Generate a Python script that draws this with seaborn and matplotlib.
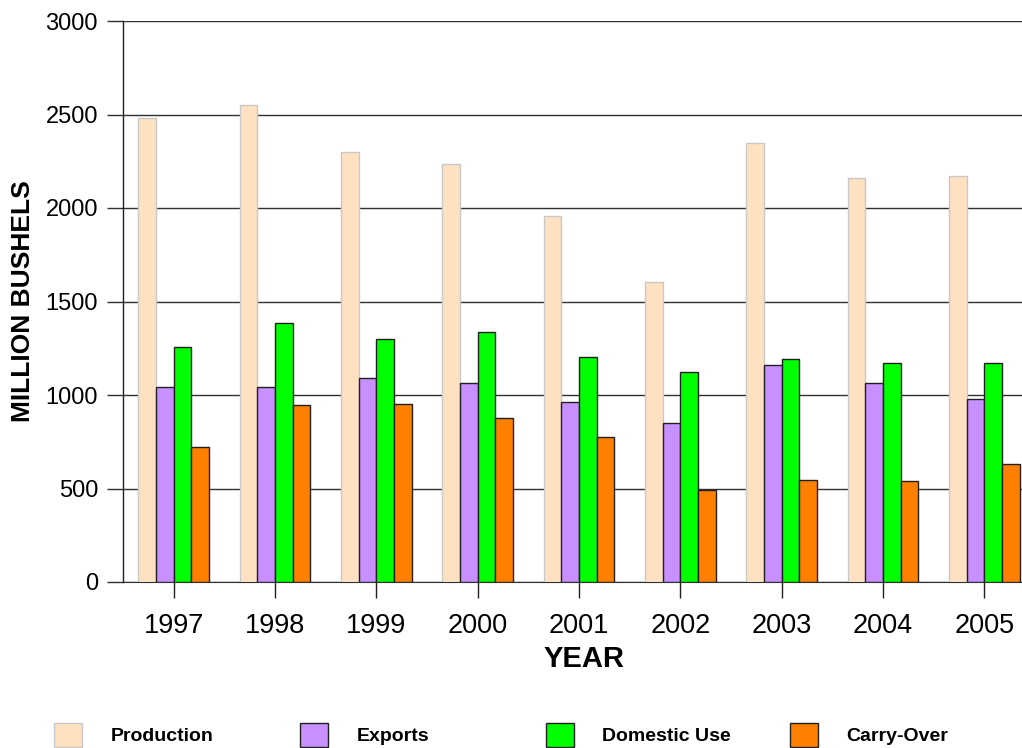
import matplotlib
matplotlib.use("Agg")
import matplotlib.pyplot as plt
import seaborn as sns
import pandas as pd
from matplotlib.patches import Patch

years = ["1997", "1998", "1999", "2000", "2001", "2002", "2003", "2004", "2005"]
production = [2482, 2549, 2301, 2233, 1959, 1606, 2349, 2160, 2170]
exports = [1041, 1044, 1093, 1062, 963, 850, 1159, 1062, 977]
domestic_use = [1257, 1387, 1301, 1335, 1201, 1125, 1194, 1173, 1169]
carry_over = [722, 947, 950, 875, 777, 490, 545, 540, 633]

series = ["Production", "Exports", "Domestic Use", "Carry-Over"]
colors = ["#FFE0C0", "#C78FFF", "#00FF00", "#FF8000"]
edges = ["#C8C8C8", "#202020", "#202020", "#202020"]

df = pd.DataFrame({
    "year": years * 4,
    "series": [s for s in series for _ in years],
    "value": production + exports + domestic_use + carry_over,
})

sns.set_style("white", {"xtick.bottom": True, "ytick.left": True})
plt.rcParams["font.family"] = ["Liberation Sans", "DejaVu Sans"]
plt.rcParams["text.color"] = "black"
plt.rcParams["axes.labelcolor"] = "black"

fig = plt.figure(figsize=(10.22, 7.48), dpi=100)
ax = fig.add_axes([123 / 1022, 1 - 582 / 748, 912 / 1022, 561 / 748])

sns.barplot(data=df, x="year", y="value", hue="series", hue_order=series,
            palette=colors, width=0.7, saturation=1, legend=False, ax=ax, zorder=3)

for cont, ec in zip(ax.containers, edges):
    for bar in cont:
        bar.set_edgecolor(ec)
        bar.set_linewidth(1)

ax.set_xlim(-0.5, 8.5)
ax.set_ylim(0, 3000)
ax.set_xticks(range(len(years)))
ax.set_xticklabels(years)
ax.set_yticks(range(0, 3001, 500))
ax.yaxis.grid(True, color="#303030", linewidth=1)

for s in ["top", "right"]:
    ax.spines[s].set_visible(False)
ax.spines["bottom"].set_color("#303030")
ax.spines["left"].set_color("#202020")
ax.spines["left"].set_linewidth(1)

ax.tick_params(axis="y", length=11.5, width=1, color="#303030", pad=6.5,
               labelsize=17, labelcolor="black", left=True)
ax.tick_params(axis="x", length=11.5, width=1, color="#202020", pad=11,
               labelsize=19.5, labelcolor="black", bottom=True)

ax.set_xlabel("YEAR", fontsize=21, fontweight="bold", color="black")
ax.xaxis.set_label_coords((584 - 123) / 912, (582 - 645) / 561)
ax.xaxis.label.set_va("top")
ax.set_ylabel("MILLION BUSHELS", fontsize=19, fontweight="bold", color="black")
ax.yaxis.set_label_coords((35 - 123) / 912, 0.5)

# legend along the bottom, one entry per slot
legend_x = [54, 300, 546, 790]
for name, c, ec, lx in zip(series, colors, edges, legend_x):
    lg = fig.legend(handles=[Patch(facecolor=c, edgecolor=ec, label=name)],
                    loc="center left", bbox_to_anchor=(lx / 1022, 1 - 735 / 748),
                    frameon=False, borderpad=0, borderaxespad=0,
                    handlelength=1.45, handleheight=1.45, handletextpad=1.45,
                    prop={"size": 14, "weight": "bold"})
    for t in lg.get_texts():
        t.set_color("black")

fig.savefig("out.png", dpi=100)
